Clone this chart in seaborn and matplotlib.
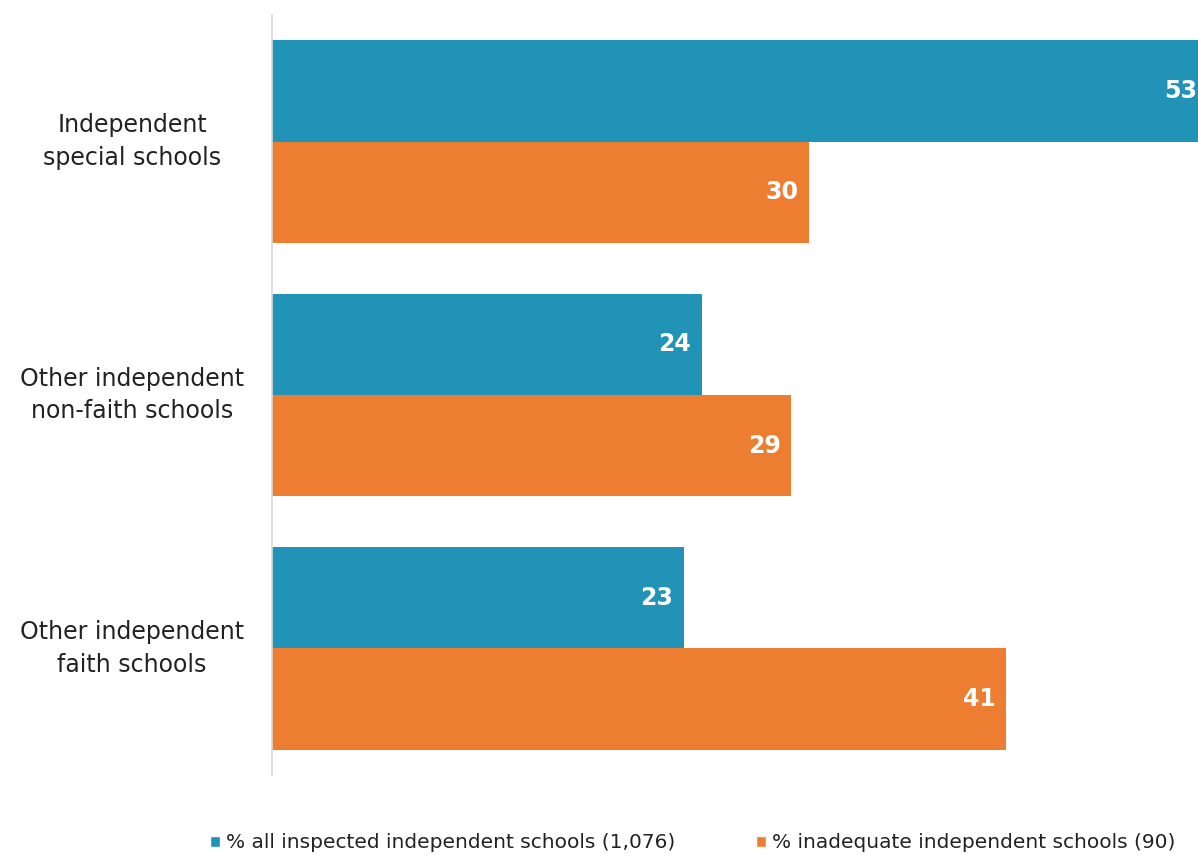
import matplotlib
matplotlib.use("Agg")
import matplotlib.pyplot as plt
import seaborn as sns
import pandas as pd
from matplotlib.patches import Patch

categories = ["Independent\nspecial schools", "Other independent\nnon-faith schools", "Other independent\nfaith schools"]
series_names = ["% all inspected independent schools (1,076)", "% inadequate independent schools (90)"]
all_inspected = [53, 24, 23]
inadequate = [30, 29, 41]
colors = ["#2193b6", "#ed7d31"]

rows = []
for c, a, b in zip(categories, all_inspected, inadequate):
    rows.append({"cat": c, "series": series_names[0], "val": a})
    rows.append({"cat": c, "series": series_names[1], "val": b})
df = pd.DataFrame(rows)

sns.set_theme(style="white")
plt.rcParams["font.family"] = ["DejaVu Sans"]

fig = plt.figure(figsize=(11.98, 8.56), dpi=100)
ax = fig.add_axes([272/1198, 1-775/856, (1198-272)/1198, 760/856])
sns.barplot(data=df, y="cat", x="val", hue="series", orient="h",
            palette=colors, width=0.8, ax=ax, legend=False, saturation=1,
            linewidth=0, edgecolor="none")

XMAX = 51.7
ax.set_xlim(0, XMAX)
ax.set_ylim(2.5, -0.5)
ax.set_xlabel("")
ax.set_ylabel("")
ax.set_xticks([])
for s in ["top", "right", "bottom"]:
    ax.spines[s].set_visible(False)
ax.spines["left"].set_color("#d9d9d9")
ax.spines["left"].set_linewidth(1.2)
ax.tick_params(axis="y", length=0, pad=0)
for lab in ax.get_yticklabels():
    lab.set_fontsize(17)
    lab.set_color("#222222")
    lab.set_horizontalalignment("center")
    lab.set_verticalalignment("center")
    lab.set_multialignment("center")
    lab.set_linespacing(1.45)
    lab.set_x(-0.151)

for cont in ax.containers:
    for bar in cont:
        w = bar.get_width()
        y = bar.get_y() + bar.get_height() / 2
        xpos = min(w - 0.6, XMAX - 0.05)
        ax.text(xpos, y, f"{int(round(w))}", ha="right", va="center",
                color="white", fontsize=17, fontweight="bold", clip_on=False)

handles = [Patch(facecolor=colors[0]), Patch(facecolor=colors[1])]
fig.legend(handles, series_names, loc="center", bbox_to_anchor=(0.578, 1-843/856),
           ncol=2, frameon=False, fontsize=14.5, handlelength=0.5, handleheight=0.5,
           handletextpad=0.3, columnspacing=4, labelcolor="#222222")

fig.savefig("out.png", dpi=100)
